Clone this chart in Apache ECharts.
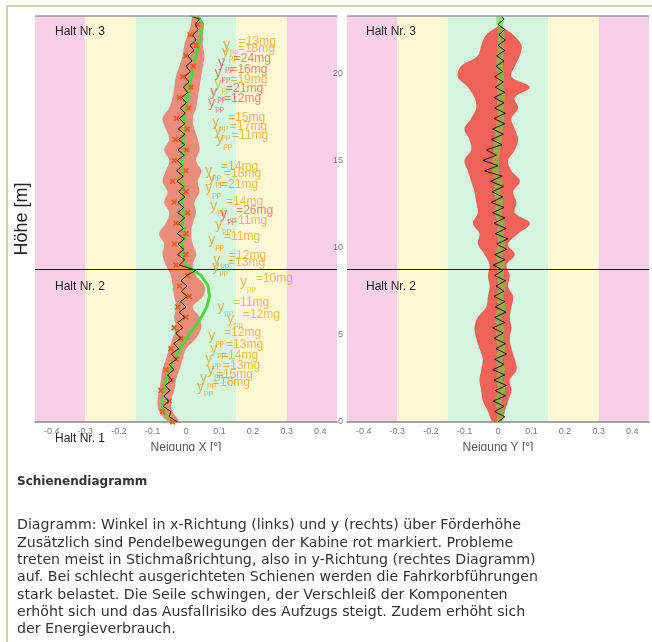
<!DOCTYPE html>
<html lang="de">
<head>
<meta charset="UTF-8">
<title>Schienendiagramm</title>
<script src="https://cdn.jsdelivr.net/npm/echarts@6/dist/echarts.min.js"></script>
<style>html,body{margin:0;padding:0;background:#fff;}</style>
</head>
<body>
<div id="main" style="width:652px;height:642px;"></div>
<script type="text/javascript">
// Höhen (m), fein für die Neigungskurven, grob für Pendel / Grün / Orange
var hFine = [0,0.3,0.6,0.9,1.2,1.5,1.8,2.1,2.4,2.7,3,3.3,3.6,3.9,4.2,4.5,4.8,5.1,5.4,5.7,
  6,6.3,6.6,6.9,7.2,7.5,7.8,8.1,8.4,8.7,9,9.3,9.6,9.9,10.2,10.5,10.8,11.1,11.4,11.7,
  12,12.3,12.6,12.9,13.2,13.5,13.8,14.1,14.4,14.7,15,15.3,15.6,15.9,16.2,16.5,16.8,17.1,17.4,17.7,
  18,18.3,18.6,18.9,19.2,19.5,19.8,20.1,20.4,20.7,21,21.3,21.6,21.9,22.2,22.5,22.8,23.1,23.3];
var hCoarse = [0,0.6,1.2,1.8,2.4,3,3.6,4.2,4.8,5.4,6,6.6,7.2,7.8,8.4,9,9.6,10.2,10.8,11.4,
  12,12.6,13.2,13.8,14.4,15,15.6,16.2,16.8,17.4,18,18.6,19.2,19.8,20.4,21,21.6,22.2,22.8,23.3];

// Neigung X (links)
var leftBlack = [-0.025,-0.05,-0.045,-0.068,-0.052,-0.066,-0.048,-0.062,-0.041,-0.055,
  -0.036,-0.05,-0.028,-0.044,-0.022,-0.036,-0.016,-0.03,-0.01,-0.025,
  -0.004,-0.02,0,-0.016,0.004,-0.014,0.003,-0.015,0.002,0.03,
  -0.02,-0.004,-0.025,-0.006,-0.024,-0.005,-0.026,-0.008,-0.022,-0.004,
  -0.025,-0.007,-0.024,-0.003,-0.022,-0.006,-0.027,-0.008,-0.028,-0.01,
  -0.026,-0.005,-0.024,-0.004,-0.022,-0.003,-0.023,-0.004,-0.02,-0.002,
  -0.017,0.001,-0.013,0.005,-0.008,0.009,-0.004,0.013,0,0.018,
  0.006,0.024,0.012,0.03,0.02,0.036,0.028,0.04,0.012];
var leftGreen = [-0.045,-0.065,-0.072,-0.068,-0.06,-0.05,-0.035,-0.018,0,0.025,
  0.045,0.062,0.07,0.066,0.045,-0.002,-0.008,-0.012,-0.004,-0.012,
  -0.006,-0.014,-0.005,-0.012,-0.008,-0.013,-0.004,-0.01,-0.002,-0.008,
  0,0.004,0.01,0.016,0.022,0.03,0.038,0.045,0.05,0.035];
var leftOrange = [-0.04,-0.07,-0.05,-0.075,-0.045,-0.06,-0.03,-0.045,-0.015,-0.035,
  0,-0.025,0.01,-0.02,0.005,-0.03,0,-0.035,0,-0.03,
  0.005,-0.035,0,-0.04,0,-0.035,0.002,-0.032,0.004,-0.028,
  0.008,-0.02,0.015,-0.01,0.022,0,0.03,0.012,0.035,0.02];
var leftPendLo = [-0.05,-0.08,-0.085,-0.08,-0.075,-0.07,-0.06,-0.05,-0.04,-0.03,
  -0.035,-0.03,-0.035,-0.04,-0.045,-0.06,-0.07,-0.065,-0.08,-0.06,
  -0.05,-0.065,-0.055,-0.07,-0.06,-0.05,-0.065,-0.05,-0.06,-0.07,
  -0.05,-0.04,-0.035,-0.03,-0.02,-0.01,-0.005,0.005,0.015,0.02];
var leftPendHi = [-0.02,-0.04,-0.045,-0.035,-0.03,-0.02,-0.01,0,0.03,0.045,
  0.04,0.02,0.05,0.055,0.03,0.02,0.03,0.02,0.015,0.02,
  0.03,0.025,0.04,0.035,0.045,0.03,0.04,0.035,0.025,0.02,
  0.03,0.035,0.04,0.045,0.05,0.055,0.05,0.05,0.045,0.04];

// Neigung Y (rechts)
var rightBlack = [0,0.02,-0.01,0.018,-0.014,0.022,-0.008,0.025,-0.012,0.02,
  -0.015,0.018,-0.01,0.026,-0.006,0.022,-0.012,0.016,-0.016,0.02,
  -0.01,0.024,-0.008,0.02,-0.012,0.018,-0.006,0.022,-0.01,0.015,
  -0.014,0.02,-0.01,0.026,-0.004,0.03,-0.008,0.024,-0.012,0.02,
  -0.016,0.018,-0.02,0.014,-0.018,0.016,-0.022,0.012,-0.04,0,
  -0.045,-0.005,-0.035,0.012,-0.02,0.016,-0.016,0.02,-0.012,0.022,
  -0.01,0.018,-0.012,0.02,-0.008,0.016,-0.01,0.014,-0.006,0.018,
  -0.004,0.02,0,0.022,0.002,0.02,0,0.018,0.008];
var rightGreen = [0.005,0.01,0,0.012,0.004,0.01,0.002,0.012,0.004,0.008,
  0,0.012,0.004,0.014,0.006,0.01,0.002,0.012,0.006,0.01,
  0,0.006,-0.004,0.004,-0.008,-0.006,-0.004,0.002,0.004,0.008,
  0.006,0.01,0.006,0.008,0.004,0.006,0.008,0.01,0.006,0.004];
var rightPendLo = [-0.015,-0.03,-0.045,-0.05,-0.055,-0.05,-0.045,-0.055,-0.065,-0.07,
  -0.06,-0.035,-0.03,-0.025,-0.03,-0.025,-0.04,-0.06,-0.055,-0.075,
  -0.06,-0.065,-0.07,-0.08,-0.09,-0.1,-0.08,-0.085,-0.1,-0.08,
  -0.065,-0.07,-0.09,-0.12,-0.11,-0.06,-0.05,-0.035,0.005,0.005];
var rightPendHi = [0.01,0.02,0.03,0.04,0.035,0.055,0.05,0.04,0.035,0.04,
  0.035,0.04,0.045,0.03,0.035,0.025,0.05,0.03,0.06,0.095,
  0.05,0.055,0.045,0.065,0.04,0.03,0.05,0.06,0.05,0.04,
  0.06,0.05,0.095,0.04,0.05,0.065,0.07,0.045,0.006,0.005];

// y_pp Beschriftungen (links)
var annX = [0.11,0.107,0.085,0.078,0.084,0.09,0.057,0.066,0.057,0.072,0.087,
  0.066,0.081,0.078,0.161,0.093,0.122,0.066,0.072,0.057,0.063,0.042,0.033];
var annH = [21.6,21.2,19.4,17.2,16.7,16.2,14.4,14.0,13.4,12.4,11.3,
  10.4,9.3,8.9,8.0,6.6,5.9,4.9,4.2,3.6,3.0,2.5,2.0];
var annVal = [13,18,19,15,17,11,14,18,21,14,11,11,12,13,10,11,12,12,13,14,13,15,16];
var annRedX = [0.095,0.085,0.072,0.066,0.102];
var annRedH = [20.6,20.0,18.9,18.3,11.9];
var annRedVal = [24,16,21,12,26];

var haltH = 8.75;
var yMax = 23.28;
var xTicks = [-0.4,-0.3,-0.2,-0.1,0,0.1,0.2,0.3,0.4];
var bandEdges = [-0.45,-0.3,-0.15,0.15,0.3,0.45];
var bandColors = ['#f9cfe6','#fdf7d3','#d4f5de','#fdf7d3','#f9cfe6'];

var textLines = [
  'Diagramm: Winkel in x-Richtung (links) und y (rechts) über Förderhöhe',
  'Zusätzlich sind Pendelbewegungen der Kabine rot markiert. Probleme',
  'treten meist in Stichmaßrichtung, also in y-Richtung (rechtes Diagramm)',
  'auf. Bei schlecht ausgerichteten Schienen werden die Fahrkorbführungen',
  'stark belastet. Die Seile schwingen, der Verschleiß der Komponenten',
  'erhöht sich und das Ausfallrisiko des Aufzugs steigt. Zudem erhöht sich',
  'der Energieverbrauch.'
];

var myChart = echarts.init(document.getElementById('main'));

function pairs(xs, hs) {
  return hs.map(function (h, i) { return [xs[i], h]; });
}

function bandSeries(idx) {
  return {
    type: 'custom', xAxisIndex: idx, yAxisIndex: idx, silent: true, z: 0, clip: true,
    data: bandEdges.slice(0, -1).map(function (e, i) { return [e, bandEdges[i + 1]]; }),
    encode: { x: [0, 1] },
    renderItem: function (params, api) {
      var p0 = api.coord([api.value(0), yMax]);
      var p1 = api.coord([api.value(1), 0]);
      return {
        type: 'rect',
        shape: { x: p0[0], y: p0[1], width: p1[0] - p0[0], height: p1[1] - p0[1] },
        style: { fill: bandColors[params.dataIndex] }
      };
    }
  };
}

function pendSeries(idx, lo, hi, color, opacity) {
  return {
    type: 'custom', xAxisIndex: idx, yAxisIndex: idx, silent: true, z: 1, clip: true,
    data: pairs(lo, hCoarse),
    renderItem: function (params, api) {
      if (params.dataIndex !== 0) return;
      var pts = [];
      for (var i = 0; i < hCoarse.length; i++) pts.push(api.coord([lo[i], hCoarse[i]]));
      for (var j = hCoarse.length - 1; j >= 0; j--) pts.push(api.coord([hi[j], hCoarse[j]]));
      return { type: 'polygon', shape: { points: pts, smooth: 0.35 }, style: { fill: color, opacity: opacity } };
    }
  };
}

function lineSeries(idx, xs, hs, color, width, z, opacity) {
  return {
    type: 'line', xAxisIndex: idx, yAxisIndex: idx, z: z, silent: true,
    data: pairs(xs, hs), symbol: 'none',
    lineStyle: { color: color, width: width, opacity: opacity == null ? 1 : opacity }
  };
}

function haltLine() {
  return {
    silent: true, symbol: ['none', 'none'], label: { show: false },
    data: [
      { yAxis: haltH, lineStyle: { color: '#222', width: 1, type: 'solid' } },
      { yAxis: yMax, lineStyle: { color: '#999', width: 1.5, type: 'solid' } }
    ]
  };
}

function annSeries(xs, hs, vals, color) {
  return {
    type: 'scatter', xAxisIndex: 0, yAxisIndex: 0, z: 6, silent: true, symbolSize: 0,
    data: hs.map(function (h, i) { return [xs[i], h, vals[i]]; }),
    label: {
      show: true, position: 'right', distance: 0,
      formatter: function (p) { return '{y|y}{s|pp}{v|=' + p.value[2] + 'mg}'; },
      rich: {
        y: { fontSize: 14, color: color, lineHeight: 20, fontFamily: 'Liberation Sans', verticalAlign: 'middle' },
        s: { fontSize: 8, color: color, lineHeight: 20, fontFamily: 'Liberation Sans', verticalAlign: 'bottom' },
        v: { fontSize: 12, color: color, lineHeight: 20, fontFamily: 'Liberation Sans', verticalAlign: 'top' }
      }
    }
  };
}

function xAxisCfg(idx, name) {
  return {
    gridIndex: idx, type: 'value', min: -0.45, max: 0.45,
    name: name, nameLocation: 'middle', nameGap: 20,
    nameTextStyle: { color: '#555', fontSize: 12, fontFamily: 'Liberation Sans' },
    axisLine: { show: true, lineStyle: { color: '#888', width: 1.5 } },
    axisTick: { show: false },
    splitLine: { show: false },
    axisLabel: { customValues: xTicks, color: '#777', fontSize: 9, margin: 5, fontFamily: 'Liberation Sans' }
  };
}

var option = {
  backgroundColor: '#fff',
  animation: false,
  grid: [
    { left: 35, top: 16, width: 302, height: 406 },
    { left: 347, top: 16, width: 302, height: 406 }
  ],
  xAxis: [xAxisCfg(0, 'Neigung X [°]'), xAxisCfg(1, 'Neigung Y [°]')],
  yAxis: [
    {
      gridIndex: 0, type: 'value', min: 0, max: yMax,
      name: 'Höhe [m]', nameLocation: 'middle', nameGap: 4,
      nameTextStyle: { color: '#222', fontSize: 18, fontFamily: 'Liberation Sans' },
      axisLine: { show: false }, axisTick: { show: false },
      axisLabel: { show: false }, splitLine: { show: false }
    },
    {
      gridIndex: 1, type: 'value', min: 0, max: yMax, interval: 5,
      axisLine: { show: false }, axisTick: { show: false }, splitLine: { show: false },
      axisLabel: { color: '#777', fontSize: 9, margin: 4, fontFamily: 'Liberation Sans',
        showMaxLabel: false }
    }
  ],
  series: [
    bandSeries(0),
    bandSeries(1),
    pendSeries(0, leftPendLo, leftPendHi, '#ef7a68', 0.85),
    pendSeries(1, rightPendLo, rightPendHi, '#f25a50', 0.95),
    lineSeries(0, leftGreen, hCoarse, '#4fd83a', 3, 2),
    lineSeries(1, rightGreen, hCoarse, '#5cdc44', 7, 2, 0.55),
    {
      type: 'line', xAxisIndex: 0, yAxisIndex: 0, z: 3, silent: true,
      data: pairs(leftOrange, hCoarse),
      symbol: 'path://M0,2L2,0L5,3L8,0L10,2L7,5L10,8L8,10L5,7L2,10L0,8L3,5Z',
      symbolSize: 6, showSymbol: true,
      itemStyle: { color: '#ee5a24' },
      lineStyle: { color: '#f39a35', width: 1.3 }
    },
    Object.assign(lineSeries(0, leftBlack, hFine, '#1a1a1a', 1, 4), { markLine: haltLine() }),
    Object.assign(lineSeries(1, rightBlack, hFine, '#1a1a1a', 1, 4), { markLine: haltLine() }),
    annSeries(annX, annH, annVal, 'rgba(238,160,40,0.9)'),
    annSeries(annRedX, annRedH, annRedVal, 'rgba(226,80,50,0.85)')
  ],
  graphic: [
    { type: 'line', shape: { x1: 7, y1: 6, x2: 7, y2: 642 }, style: { stroke: '#c9d59c', lineWidth: 2 } },
    { type: 'line', shape: { x1: 7, y1: 6, x2: 652, y2: 6 }, style: { stroke: '#c9d59c', lineWidth: 2 } },
    { type: 'rect', z: 100, shape: { x: 20, y: 451, width: 632, height: 18 }, style: { fill: '#fff' } },
    { type: 'text', z: 100, left: 55, top: 26, style: { text: 'Halt Nr. 3', font: '12px "Liberation Sans"', fill: '#222' } },
    { type: 'text', z: 100, left: 366, top: 26, style: { text: 'Halt Nr. 3', font: '12px "Liberation Sans"', fill: '#222' } },
    { type: 'text', z: 100, left: 55, top: 281, style: { text: 'Halt Nr. 2', font: '12px "Liberation Sans"', fill: '#222' } },
    { type: 'text', z: 100, left: 366, top: 281, style: { text: 'Halt Nr. 2', font: '12px "Liberation Sans"', fill: '#222' } },
    { type: 'text', z: 100, left: 55, top: 433, style: { text: 'Halt Nr. 1', font: '12px "Liberation Sans"', fill: '#222' } },
    { type: 'text', z: 100, left: 17, top: 476, style: { text: 'Schienendiagramm', font: 'bold 12px "DejaVu Sans"', fill: '#333' } },
    { type: 'text', z: 100, left: 17, top: 517, style: { text: textLines.join('\n'), font: '14.2px "DejaVu Sans"', fill: '#333', lineHeight: 17.3 } }
  ]
};

myChart.setOption(option);
</script>
</body>
</html>
